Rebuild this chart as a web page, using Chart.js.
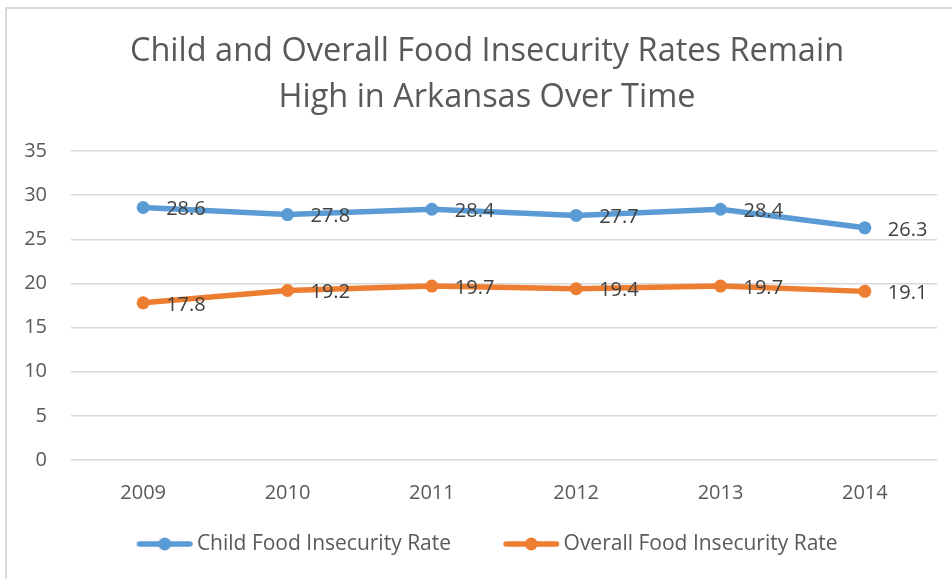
<!DOCTYPE html>
<html>
<head>
<meta charset="utf-8">
<script src="https://cdn.jsdelivr.net/npm/chart.js@4.4.1/dist/chart.umd.min.js"></script>
<style>
  html, body { margin: 0; padding: 0; background: #fff; }
  #wrap { position: relative; width: 952px; height: 579px; }
</style>
</head>
<body>
<div id="wrap"><canvas id="chart" width="952" height="579"></canvas></div>
<script>
  // Data
  var years = ["2009", "2010", "2011", "2012", "2013", "2014"];
  var childRate = [28.6, 27.8, 28.4, 27.7, 28.4, 26.3];
  var overallRate = [17.8, 19.2, 19.7, 19.4, 19.7, 19.1];
  var yTicks = [0, 5, 10, 15, 20, 25, 30, 35];

  var BLUE = "#5B9BD5";
  var ORANGE = "#ED7D31";
  var FONT = "'Open Sans', sans-serif";
  var BOX_W = 50;

  // legend marker: line with a dot in the middle
  function legendMarker(color) {
    var c = document.createElement("canvas");
    c.width = BOX_W + 16;
    c.height = 16;
    var g = c.getContext("2d");
    g.strokeStyle = color;
    g.lineWidth = 5.5;
    g.lineCap = "round";
    g.beginPath();
    g.moveTo(11, 8);
    g.lineTo(61.5, 8);
    g.stroke();
    g.fillStyle = color;
    g.beginPath();
    g.arc(36.25, 8, 6.5, 0, Math.PI * 2);
    g.fill();
    return c;
  }

  // frame round the chart (left and top edge visible)
  var framePlugin = {
    id: "frame",
    beforeDraw: function (chart) {
      var ctx = chart.ctx;
      ctx.save();
      ctx.fillStyle = "#fff";
      ctx.fillRect(0, 0, chart.width, chart.height);
      ctx.strokeStyle = "#d9d9d9";
      ctx.lineWidth = 2;
      ctx.strokeRect(6, 8, chart.width + 20, chart.height + 20);
      ctx.restore();
    },
  };

  // value labels to the right of each point
  var valueLabels = {
    id: "valueLabels",
    afterDatasetsDraw: function (chart) {
      var ctx = chart.ctx;
      ctx.save();
      ctx.font = "20px " + FONT;
      ctx.fillStyle = "#404040";
      ctx.textAlign = "left";
      ctx.textBaseline = "middle";
      chart.data.datasets.forEach(function (ds, i) {
        chart.getDatasetMeta(i).data.forEach(function (pt, j) {
          ctx.fillText(ds.data[j].toFixed(1), pt.x + 23, pt.y + 2);
        });
      });
      ctx.restore();
    },
  };

  var ctx = document.getElementById("chart").getContext("2d");
  var myChart = new Chart(ctx, {
    type: "line",
    data: {
      labels: years,
      datasets: [
        {
          label: "Child Food Insecurity Rate",
          data: childRate,
          borderColor: BLUE,
          backgroundColor: BLUE,
          borderWidth: 5.5,
          pointRadius: 6.5,
          pointBorderWidth: 0,
          pointHoverRadius: 6.5,
          tension: 0,
        },
        {
          label: "Overall Food Insecurity Rate",
          data: overallRate,
          borderColor: ORANGE,
          backgroundColor: ORANGE,
          borderWidth: 5.5,
          pointRadius: 6.5,
          pointBorderWidth: 0,
          pointHoverRadius: 6.5,
          tension: 0,
        },
      ],
    },
    options: {
      responsive: false,
      animation: false,
      // the original chart is wider than the crop, so title/legend centre sits right of middle
      layout: { padding: { left: 0, right: -22, top: 0, bottom: 14.5 } },
      scales: {
        x: {
          offset: true,
          grid: { display: false },
          border: { display: false },
          ticks: { color: "#595959", font: { family: FONT, size: 20 }, padding: 13 },
          afterFit: function (scale) {
            scale.height = 63.5;
          },
        },
        y: {
          min: 0,
          max: 35,
          afterBuildTicks: function (scale) {
            scale.ticks = yTicks.map(function (v) {
              return { value: v };
            });
          },
          grid: { color: "#d9d9d9", lineWidth: 1.5, drawTicks: false },
          border: { display: false },
          ticks: { color: "#595959", font: { family: FONT, size: 20 }, padding: 24 },
          afterFit: function (scale) {
            scale.width = 71;
          },
        },
        // empty right margin
        y2: {
          position: "right",
          grid: { display: false },
          border: { display: false },
          ticks: { display: false },
          afterFit: function (scale) {
            scale.width = 37;
          },
        },
      },
      plugins: {
        title: {
          display: true,
          text: ["Child and Overall Food Insecurity Rates Remain", "High in Arkansas Over Time"],
          color: "#595959",
          font: { family: FONT, size: 32.5, weight: "normal", lineHeight: "46px" },
          padding: { top: 29, bottom: 30 },
        },
        legend: {
          position: "bottom",
          labels: {
            usePointStyle: true,
            pointStyleWidth: BOX_W,
            padding: 10,
            color: "#595959",
            font: { family: FONT, size: 21 },
            generateLabels: function (chart) {
              var items = Chart.defaults.plugins.legend.labels.generateLabels(chart);
              items.forEach(function (it, i) {
                it.pointStyle = legendMarker(i === 0 ? BLUE : ORANGE);
                if (i === 0) it.text = it.text + "\u2003\u2003";
              });
              return items;
            },
          },
        },
        tooltip: { enabled: false },
      },
    },
    plugins: [framePlugin, valueLabels],
  });
</script>
</body>
</html>
